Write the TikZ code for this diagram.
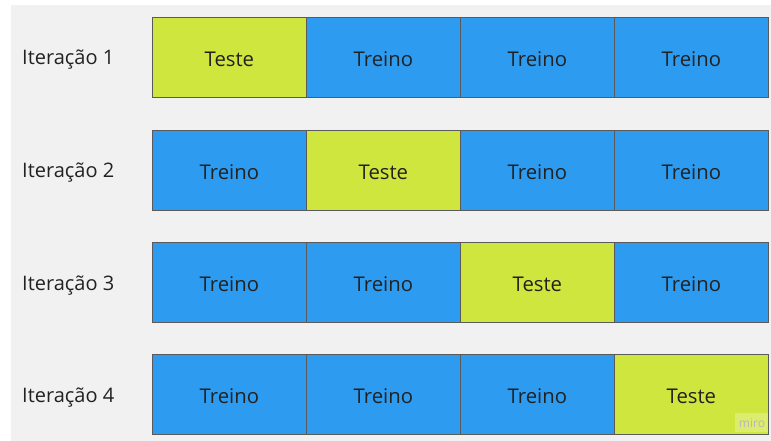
\documentclass[tikz,border=0pt]{standalone}
\usepackage{fontspec}
\setmainfont{Open Sans}
\definecolor{bgc}{HTML}{F1F1F1}
\definecolor{treinoc}{HTML}{2D9BF0}
\definecolor{testec}{HTML}{CFE63F}
\definecolor{edgec}{HTML}{5A5A5A}
\definecolor{txtc}{HTML}{222222}
\begin{document}
\begin{tikzpicture}[x=1pt,y=-1pt,
  cell/.style={draw=edgec,line width=0.8pt,minimum width=154pt,minimum height=80pt,inner sep=0pt,anchor=north west},
  celltext/.style={font=\fontsize{20.3}{24}\selectfont,text=txtc,inner sep=0pt,anchor=base},
  treino/.style={cell,fill=treinoc},
  teste/.style={cell,fill=testec},
  rowlabel/.style={font=\fontsize{20}{24}\selectfont,text=txtc,anchor=base west,inner sep=0pt}]
\useasboundingbox (0,0) rectangle (771,441);
\fill[white] (0,0) rectangle (771,441);
\fill[bgc] (11,5) rectangle (771,441);
% row 1
\node[rowlabel] (l1) at (22,65) {Iteração 1};
\node[teste]  (r1c1) at (152,17) {};
\node[treino] (r1c2) at (306,17) {};
\node[treino] (r1c3) at (460,17) {};
\node[treino] (r1c4) at (614,17) {};
% row 2
\node[rowlabel] (l2) at (22,178) {Iteração 2};
\node[treino] (r2c1) at (152,130) {};
\node[teste]  (r2c2) at (306,130) {};
\node[treino] (r2c3) at (460,130) {};
\node[treino] (r2c4) at (614,130) {};
% row 3
\node[rowlabel] (l3) at (22,290) {Iteração 3};
\node[treino] (r3c1) at (152,242) {};
\node[treino] (r3c2) at (306,242) {};
\node[teste]  (r3c3) at (460,242) {};
\node[treino] (r3c4) at (614,242) {};
% row 4
\node[rowlabel] (l4) at (22,402) {Iteração 4};
\node[treino] (r4c1) at (152,354) {};
\node[treino] (r4c2) at (306,354) {};
\node[treino] (r4c3) at (460,354) {};
\node[teste]  (r4c4) at (614,354) {};
% cell texts
\foreach \r/\a/\b/\c/\d in {1/Teste/Treino/Treino/Treino,2/Treino/Teste/Treino/Treino,3/Treino/Treino/Teste/Treino,4/Treino/Treino/Treino/Teste}{
  \node[celltext] (t\r c1) at ([yshift=-9pt]r\r c1.center) {\a};
  \node[celltext] (t\r c2) at ([yshift=-9pt]r\r c2.center) {\b};
  \node[celltext] (t\r c3) at ([yshift=-9pt]r\r c3.center) {\c};
  \node[celltext] (t\r c4) at ([yshift=-9pt]r\r c4.center) {\d};
}
% watermark
\fill[white,opacity=0.25] (735,413) rectangle (768,432);
\node[font=\fontsize{12}{14}\selectfont,text=black!28,inner sep=0pt] (miro) at (752,423) {miro};
\end{tikzpicture}
\end{document}
